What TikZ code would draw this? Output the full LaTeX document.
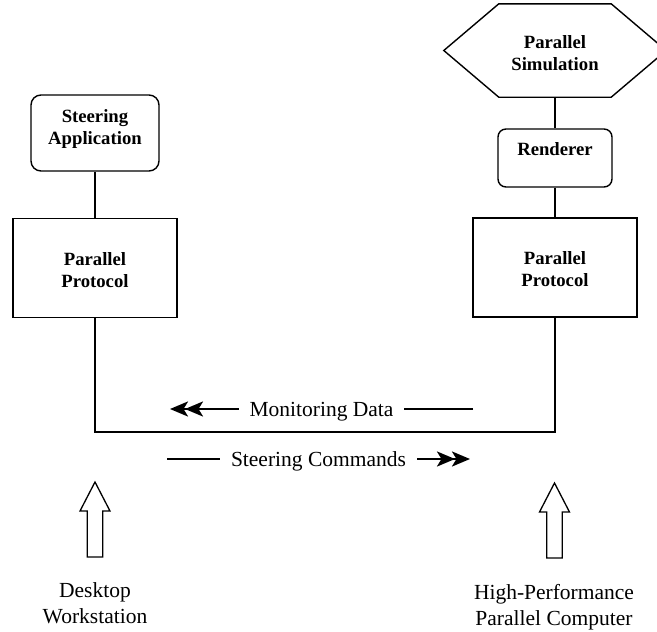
\documentclass[tikz,border=0pt]{standalone}
\usepackage{fontspec}
\setmainfont{Liberation Serif}
\usetikzlibrary{arrows.meta}

\tikzset{
  boldtext/.style={font=\fontsize{18.7}{22}\selectfont\bfseries, align=center},
  plaintext/.style={font=\fontsize{21.5}{26}\selectfont, align=center},
  wire/.style={line width=1.4pt},
  roundbox/.style={draw, line width=1.4pt, rounded corners=10pt, boldtext, inner sep=0pt},
  protobox/.style={draw, line width=1.4pt, boldtext, inner sep=0pt, minimum width=164pt, minimum height=99pt, text height=40pt, text depth=2pt},
  flow/.style={line width=2.6pt},
  dblhead/.style={-{Stealth[length=18pt,width=15pt,inset=4.5pt,sep=-3pt]Stealth[length=18pt,width=15pt,inset=4.5pt]}},
  flowlabel/.style={plaintext, fill=white, inner xsep=11pt, inner ysep=2pt, text height=14.2pt, text depth=0pt},
  hollowup/.pic={
    \draw[line width=1.3pt, line join=miter]
      (0,0) -- (15,29) -- (7.8,29) -- (7.8,75) -- (-7.8,75) -- (-7.8,29) -- (-15,29) -- cycle;
  }
}

\begin{document}
\begin{tikzpicture}[x=1pt, y=-1pt]
  \useasboundingbox (0,0) rectangle (657,632);
  \clip (0,0) rectangle (657,632);

  % desktop side
  \node[roundbox, minimum width=128pt, minimum height=76pt, text height=34.8pt, text depth=12.8pt] (app) at (95,133) {Steering\\Application};
  \node[protobox] (protoL) at (95,268) {Parallel\\Protocol};

  % parallel computer side
  \node[boldtext, inner sep=0pt, minimum width=222pt, minimum height=93pt, text height=41pt, text depth=2pt] (sim) at (555,50.5) {Parallel\\Simulation};
  \draw[wire, line join=miter]
    (sim.west) -- ([xshift=55pt]sim.north west) -- ([xshift=-55pt]sim.north east) -- (sim.east)
    -- ([xshift=-55pt]sim.south east) -- ([xshift=55pt]sim.south west) -- cycle;
  \node[roundbox, rounded corners=8pt, minimum width=114pt, minimum height=58pt, text height=12.8pt, text depth=18.8pt] (rend) at (555,158) {Renderer};
  \node[protobox] (protoR) at (555,267.5) {Parallel\\Protocol};

  % vertical links
  \draw[wire] (app.south) -- (protoL.north);
  \draw[wire] (sim.south) -- (rend.north);
  \draw[wire] (rend.south) -- (protoR.north);

  % network link between the two protocol layers
  \coordinate (busL) at (95,432);
  \coordinate (busR) at (555,432);
  \draw[wire] (protoL.south) -- (busL) -- (busR) -- (protoR.south);

  % data flows
  \coordinate (monStart) at (473,409);
  \coordinate (monEnd) at (170,409);
  \draw[flow, dblhead] (monStart) -- (monEnd);
  \node[flowlabel] (mon) at (321.5,409) {Monitoring Data};

  \coordinate (cmdStart) at (167,459);
  \coordinate (cmdEnd) at (470,459);
  \draw[flow, dblhead] (cmdStart) -- (cmdEnd);
  \node[flowlabel] (cmd) at (318.5,459) {Steering Commands};

  % machines
  \pic (upL) at (95,482) {hollowup};
  \pic (upR) at (554.5,483) {hollowup};
  \node[plaintext, inner sep=0pt, anchor=base] (desk) at (95,623) {Desktop\\Workstation};
  \node[plaintext, inner sep=0pt, anchor=base] (hpc) at (554,625) {High-Performance\\Parallel Computer};
\end{tikzpicture}
\end{document}
